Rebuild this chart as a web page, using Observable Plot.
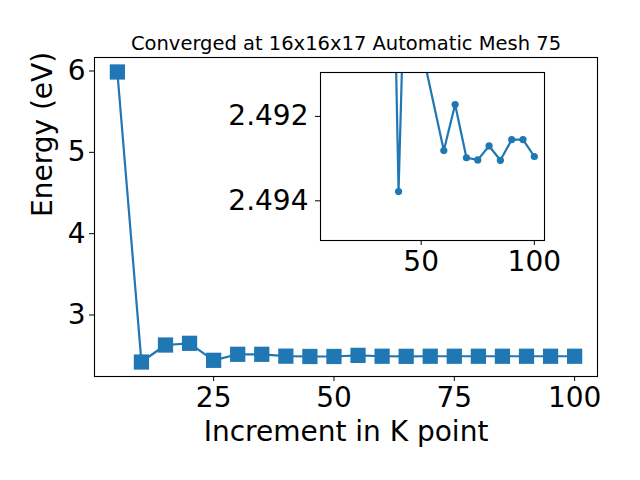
<!DOCTYPE html>
<html><head><meta charset="utf-8">
<script src="https://cdn.jsdelivr.net/npm/d3@7"></script>
<script src="https://cdn.jsdelivr.net/npm/@observablehq/plot@0.6"></script>
<style>
body{margin:0;background:white;}
#wrap{position:relative;width:640px;height:480px;}
#wrap svg{position:absolute;}
</style></head><body><div id="wrap"></div>
<script>
const title = "Converged at 16x16x17 Automatic Mesh 75";
const xLabel = "Increment in K point";
const yLabel = "Energy (eV)";

const kPoints = [5, 10, 15, 20, 25, 30, 35, 40, 45, 50, 55, 60, 65, 70, 75, 80, 85, 90, 95, 100];
const energy = [5.988, 2.422, 2.631, 2.652, 2.443, 2.517, 2.517, 2.494, 2.490, 2.490, 2.504, 2.493, 2.492, 2.493, 2.493, 2.493, 2.493, 2.493, 2.493, 2.493];
const xTicks = [25, 50, 75, 100];
const yTicks = [3, 4, 5, 6];

const insetK = [35, 40, 45, 50, 60, 65, 70, 75, 80, 85, 90, 95, 100];
const insetEnergy = [2.4804, 2.49378, 2.48408, 2.49034, 2.49281, 2.49172, 2.49298, 2.49303, 2.49270, 2.49304, 2.49255, 2.49255, 2.49295];
const insetXTicks = [50, 100];
const insetYTicks = [2.492, 2.494];

const blue = "#1f77b4";
const font = "DejaVu Sans";

const mainData = kPoints.map((k, i) => ({k, e: energy[i]}));
const insetData = insetK.map((k, i) => ({k, e: insetEnergy[i]}));

const main = Plot.plot({
  width: 640, height: 480,
  marginLeft: 94, marginRight: 43, marginTop: 57, marginBottom: 104,
  style: {fontFamily: font, background: "white", color: "black"},
  x: {domain: [0.25, 104.75]},
  y: {domain: [2.244, 6.166]},
  marks: [
    Plot.axisX({ticks: xTicks, tickFormat: d3.format("d"), tickSize: 5, tickPadding: 6, fontSize: 28, label: null, stroke: "black"}),
    Plot.axisY({ticks: yTicks, tickFormat: d3.format("d"), tickSize: 5, tickPadding: 4, fontSize: 28, label: null, stroke: "black"}),
    Plot.line(mainData, {x: "k", y: "e", stroke: blue, strokeWidth: 2.2}),
    Plot.dot(mainData, {x: "k", y: "e", symbol: "square", r: 8.6, fill: blue}),
    Plot.frame({stroke: "black", strokeWidth: 1.1}),
    Plot.text([title], {frameAnchor: "top", dy: -21, fontSize: 19.5, text: d => d, fill: "black"}),
    Plot.text([xLabel], {frameAnchor: "bottom", dy: 64, fontSize: 28, text: d => d, fill: "black"}),
    Plot.text([yLabel], {frameAnchor: "left", dx: -51, rotate: -90, fontSize: 28, text: d => d, fill: "black"})
  ]
});
main.style.left = "0px"; main.style.top = "0px";

const inset = Plot.plot({
  width: 380, height: 230,
  marginLeft: 120, marginRight: 36, marginTop: 12, marginBottom: 50,
  style: {fontFamily: font, background: "transparent", color: "black"},
  x: {domain: [5.5, 104.5]},
  y: {domain: [2.49096, 2.49494], reverse: true},
  marks: [
    Plot.frame({fill: "white"}),
    Plot.axisX({ticks: insetXTicks, tickFormat: d3.format("d"), tickSize: 5, tickPadding: 6, fontSize: 28, label: null, stroke: "black"}),
    Plot.axisY({ticks: insetYTicks, tickFormat: d3.format(".3f"), tickSize: 5, tickPadding: 7, fontSize: 28, label: null, stroke: "black"}),
    Plot.line(insetData, {x: "k", y: "e", stroke: blue, strokeWidth: 2.2, clip: true}),
    Plot.dot(insetData, {x: "k", y: "e", r: 3.6, fill: blue, clip: true}),
    Plot.frame({stroke: "black", strokeWidth: 1.1})
  ]
});
inset.style.left = "200px"; inset.style.top = "60px";

const wrap = document.getElementById("wrap");
wrap.appendChild(main);
wrap.appendChild(inset);
</script></body></html>
